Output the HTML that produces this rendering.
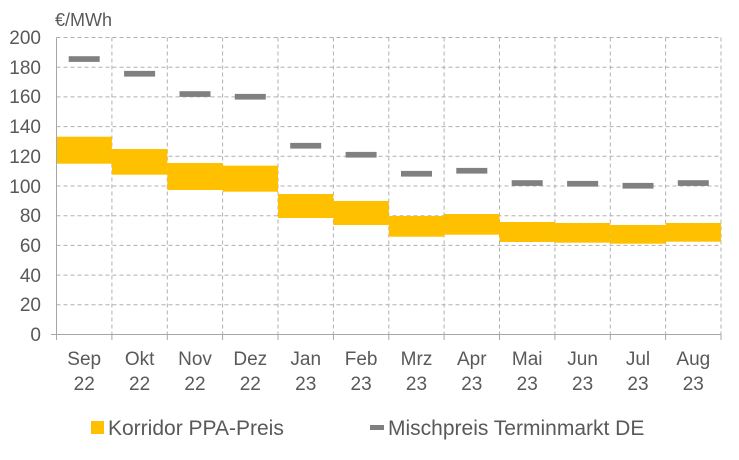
<!DOCTYPE html>
<html><head><meta charset="utf-8"><style>body{margin:0;background:#fff}svg{display:block}</style></head><body>
<svg width="739" height="460" xmlns="http://www.w3.org/2000/svg" font-family="Liberation Sans, sans-serif">
<g stroke="#b0b0b0" stroke-width="1" stroke-dasharray="4,3" fill="none">
<line x1="56.5" y1="37.5" x2="721" y2="37.5"/><line x1="56.5" y1="67.2" x2="721" y2="67.2"/><line x1="56.5" y1="96.9" x2="721" y2="96.9"/><line x1="56.5" y1="126.6" x2="721" y2="126.6"/><line x1="56.5" y1="156.3" x2="721" y2="156.3"/><line x1="56.5" y1="186" x2="721" y2="186"/><line x1="56.5" y1="215.7" x2="721" y2="215.7"/><line x1="56.5" y1="245.4" x2="721" y2="245.4"/><line x1="56.5" y1="275.1" x2="721" y2="275.1"/><line x1="56.5" y1="304.8" x2="721" y2="304.8"/>
<line x1="111.9" y1="37.5" x2="111.9" y2="334.5"/><line x1="167.3" y1="37.5" x2="167.3" y2="334.5"/><line x1="222.6" y1="37.5" x2="222.6" y2="334.5"/><line x1="278" y1="37.5" x2="278" y2="334.5"/><line x1="333.4" y1="37.5" x2="333.4" y2="334.5"/><line x1="388.8" y1="37.5" x2="388.8" y2="334.5"/><line x1="444.1" y1="37.5" x2="444.1" y2="334.5"/><line x1="499.5" y1="37.5" x2="499.5" y2="334.5"/><line x1="554.9" y1="37.5" x2="554.9" y2="334.5"/><line x1="610.3" y1="37.5" x2="610.3" y2="334.5"/><line x1="665.6" y1="37.5" x2="665.6" y2="334.5"/><line x1="721" y1="37.5" x2="721" y2="334.5"/>
</g>
<g fill="#ffc000">
<rect x="56.5" y="136.7" width="55.4" height="27"/>
<rect x="111.9" y="149" width="55.4" height="25.7"/>
<rect x="167.3" y="163" width="55.4" height="27"/>
<rect x="222.6" y="165.7" width="55.4" height="26"/>
<rect x="278" y="194" width="55.4" height="24"/>
<rect x="333.4" y="201" width="55.4" height="24"/>
<rect x="388.8" y="216" width="55.4" height="20.7"/>
<rect x="444.1" y="214" width="55.4" height="20.7"/>
<rect x="499.5" y="222" width="55.4" height="20"/>
<rect x="554.9" y="223" width="55.4" height="19.7"/>
<rect x="610.3" y="225" width="55.4" height="18.7"/>
<rect x="665.6" y="223" width="55.4" height="18.7"/>
</g>
<g fill="#808080">
<rect x="68.7" y="56.2" width="31" height="5.7"/>
<rect x="124.1" y="70.9" width="31" height="5.7"/>
<rect x="179.5" y="91.2" width="31" height="5.7"/>
<rect x="234.8" y="93.9" width="31" height="5.7"/>
<rect x="290.2" y="142.9" width="31" height="5.7"/>
<rect x="345.6" y="151.9" width="31" height="5.7"/>
<rect x="401" y="170.9" width="31" height="5.7"/>
<rect x="456.3" y="167.9" width="31" height="5.7"/>
<rect x="511.7" y="180.2" width="31" height="5.7"/>
<rect x="567.1" y="180.9" width="31" height="5.7"/>
<rect x="622.5" y="182.9" width="31" height="5.7"/>
<rect x="677.8" y="180.2" width="31" height="5.7"/>
</g>
<g stroke="#a6a6a6" stroke-width="1">
<line x1="56.5" y1="37.5" x2="56.5" y2="340"/>
<line x1="51" y1="334.5" x2="721" y2="334.5"/>
<line x1="111.9" y1="334.5" x2="111.9" y2="340"/><line x1="167.3" y1="334.5" x2="167.3" y2="340"/><line x1="222.6" y1="334.5" x2="222.6" y2="340"/><line x1="278" y1="334.5" x2="278" y2="340"/><line x1="333.4" y1="334.5" x2="333.4" y2="340"/><line x1="388.8" y1="334.5" x2="388.8" y2="340"/><line x1="444.1" y1="334.5" x2="444.1" y2="340"/><line x1="499.5" y1="334.5" x2="499.5" y2="340"/><line x1="554.9" y1="334.5" x2="554.9" y2="340"/><line x1="610.3" y1="334.5" x2="610.3" y2="340"/><line x1="665.6" y1="334.5" x2="665.6" y2="340"/><line x1="721" y1="334.5" x2="721" y2="340"/>
</g>
<g fill="#595959" font-size="19" text-anchor="end">
<text x="41" y="44">200</text><text x="41" y="74">180</text><text x="41" y="103">160</text><text x="41" y="133">140</text><text x="41" y="163">120</text><text x="41" y="193">100</text><text x="41" y="222">80</text><text x="41" y="252">60</text><text x="41" y="282">40</text><text x="41" y="311">20</text><text x="41" y="341">0</text>
</g>
<text x="55" y="26" fill="#595959" font-size="18">€/MWh</text>
<g fill="#595959" font-size="19" text-anchor="middle">
<text x="84.2" y="365">Sep</text><text x="84.2" y="390">22</text>
<text x="139.6" y="365">Okt</text><text x="139.6" y="390">22</text>
<text x="195" y="365">Nov</text><text x="195" y="390">22</text>
<text x="250.3" y="365">Dez</text><text x="250.3" y="390">22</text>
<text x="305.7" y="365">Jan</text><text x="305.7" y="390">23</text>
<text x="361.1" y="365">Feb</text><text x="361.1" y="390">23</text>
<text x="416.5" y="365">Mrz</text><text x="416.5" y="390">23</text>
<text x="471.8" y="365">Apr</text><text x="471.8" y="390">23</text>
<text x="527.2" y="365">Mai</text><text x="527.2" y="390">23</text>
<text x="582.6" y="365">Jun</text><text x="582.6" y="390">23</text>
<text x="638" y="365">Jul</text><text x="638" y="390">23</text>
<text x="693.3" y="365">Aug</text><text x="693.3" y="390">23</text>
</g>
<rect x="91" y="421" width="13" height="13" fill="#ffc000"/>
<text x="108" y="435" fill="#595959" font-size="21">Korridor PPA-Preis</text>
<rect x="370" y="425" width="14" height="5" fill="#808080"/>
<text x="388" y="435" fill="#595959" font-size="21">Mischpreis Terminmarkt DE</text>
</svg>
</body></html>
